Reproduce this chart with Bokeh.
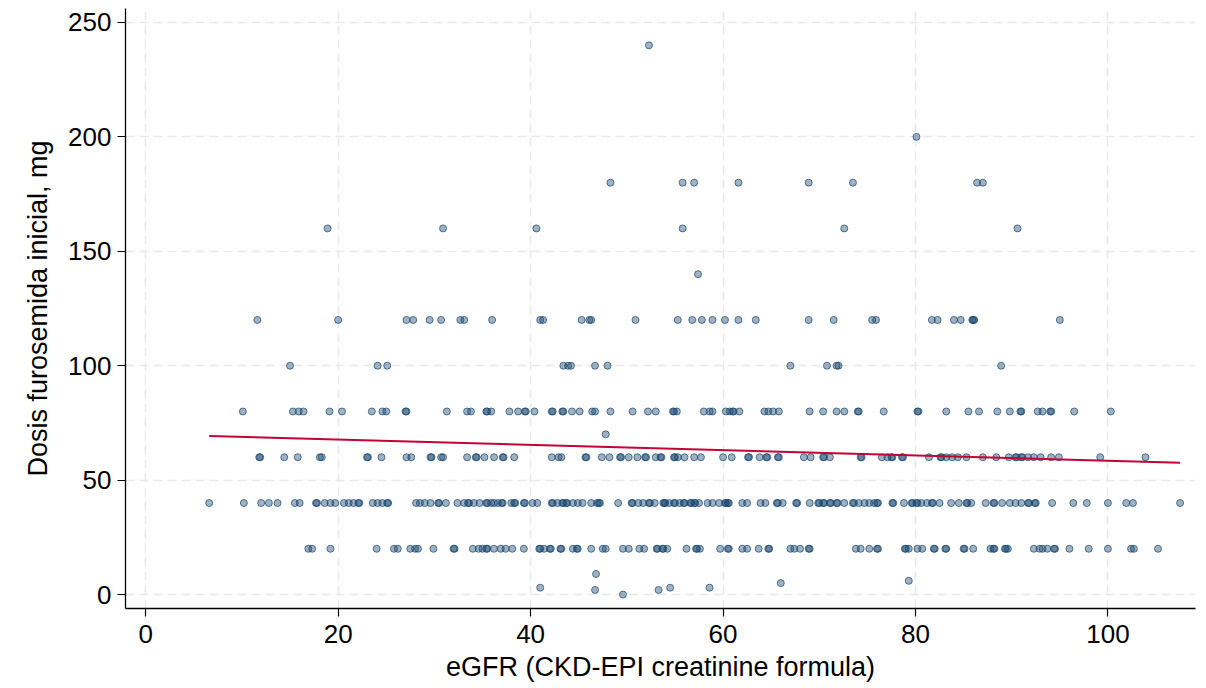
from bokeh.plotting import figure
from bokeh.models import FixedTicker, Range1d
from bokeh.embed import file_html
from bokeh.resources import INLINE

# eGFR values (mL/min/1.73m2) grouped by initial furosemide dose (mg)
egfr_240 = [52.3]
egfr_200 = [80.1]
egfr_180 = [48.3, 55.8, 57.0, 61.6, 68.9, 73.5, 86.4, 87.0]
egfr_160 = [18.9, 30.9, 40.6, 55.8, 72.6, 90.6]
egfr_140 = [57.4]
egfr_120 = [11.6, 20.0, 27.1, 27.8, 29.5, 30.7, 32.7, 33.1, 36.0, 41.0, 41.3, 45.3,
            46.1, 46.3, 50.9, 55.3, 56.8, 57.8, 58.9, 60.2, 61.6, 63.4, 68.9, 71.5,
            75.5, 75.9, 81.7, 82.3, 84.0, 84.7, 85.9, 86.0, 86.1, 95.0]
egfr_100 = [15.0, 24.1, 25.1, 43.4, 43.9, 44.2, 46.7, 48.0, 67.0, 70.8, 71.8, 72.0, 88.9]
egfr_80 = [10.1, 15.3, 15.9, 16.4, 19.1, 20.4, 23.5, 24.6, 25.0, 27.0, 27.1, 31.3,
           33.4, 33.8, 35.4, 35.5, 35.9, 37.8, 38.7, 39.4, 39.5, 40.4, 42.2, 42.3,
           43.3, 43.4, 44.3, 45.1, 46.4, 46.7, 48.3, 50.6, 52.2, 53.0, 54.8, 54.9,
           55.2, 58.0, 58.6, 58.9, 60.3, 60.7, 61.0, 61.1, 61.7, 64.3, 64.7, 65.2,
           65.8, 69.0, 70.4, 71.8, 72.6, 74.0, 74.1, 76.7, 80.2, 80.3, 83.2, 85.5,
           86.6, 88.5, 89.8, 90.9, 91.0, 92.7, 93.2, 94.0, 94.1, 96.5, 100.3]
egfr_70 = [47.8]
egfr_60 = [11.8, 11.9, 14.4, 15.8, 18.1, 18.3, 23.0, 23.1, 24.5, 27.1, 27.6, 29.6,
           29.7, 30.7, 30.9, 33.4, 34.3, 34.4, 35.2, 36.2, 37.1, 37.2, 38.3, 42.2,
           42.9, 43.2, 45.7, 45.8, 47.4, 48.2, 49.3, 49.4, 50.2, 51.1, 51.9, 52.0,
           53.0, 53.5, 53.6, 54.9, 55.0, 55.3, 56.0, 57.0, 57.7, 60.0, 60.9, 62.6,
           62.7, 63.8, 64.5, 64.6, 65.7, 65.8, 68.4, 69.1, 70.4, 70.5, 71.1, 74.3,
           74.4, 76.5, 77.1, 77.5, 77.6, 78.6, 78.7, 81.4, 82.6, 82.7, 83.2, 83.8,
           84.4, 85.3, 87.0, 88.4, 89.7, 90.4, 90.5, 91.0, 91.1, 91.7, 92.3, 93.0,
           94.1, 94.9, 99.2, 103.9]
egfr_40 = [6.6, 10.2, 12.0, 12.8, 13.7, 15.5, 16.0, 17.7, 17.8, 18.6, 19.2, 19.7,
           20.6, 21.1, 21.6, 22.1, 22.2, 23.6, 24.1, 24.6, 25.1, 25.2, 28.1, 28.5,
           29.0, 29.6, 30.4, 30.5, 31.2, 32.4, 33.1, 33.5, 33.6, 34.1, 34.7, 35.4,
           35.5, 35.9, 36.2, 36.6, 37.0, 37.1, 38.0, 38.3, 38.4, 39.3, 39.4, 40.2,
           40.7, 42.2, 42.3, 42.8, 43.3, 43.4, 43.7, 43.8, 44.4, 44.9, 45.4, 46.3,
           46.9, 47.1, 47.2, 49.1, 50.5, 50.6, 51.2, 51.7, 52.3, 52.4, 52.9, 53.8,
           53.9, 54.0, 54.4, 54.9, 55.0, 55.5, 55.9, 56.0, 56.6, 56.7, 57.0, 57.1,
           57.5, 58.4, 58.9, 59.6, 60.2, 60.3, 60.5, 60.6, 62.0, 62.5, 63.9, 64.4,
           65.6, 65.7, 66.2, 67.6, 67.7, 69.0, 69.9, 70.0, 70.4, 70.5, 71.1, 71.2,
           71.8, 71.9, 72.6, 73.5, 73.6, 74.1, 74.7, 75.2, 75.7, 76.0, 76.1, 77.6,
           77.7, 78.8, 79.6, 79.7, 80.1, 80.2, 80.6, 81.2, 81.7, 81.8, 82.5, 83.7,
           84.5, 85.3, 85.4, 85.8, 87.3, 88.1, 88.2, 89.0, 89.8, 90.4, 91.0, 91.7,
           91.8, 92.4, 92.5, 94.2, 96.4, 97.8, 100.0, 101.9, 102.6, 107.5]
egfr_20 = [16.9, 17.3, 19.2, 24.0, 25.8, 26.2, 27.5, 28.0, 28.3, 29.9, 32.0, 32.1,
           34.0, 34.6, 35.0, 35.4, 35.5, 36.2, 36.9, 37.4, 38.1, 39.3, 40.9, 41.0,
           41.4, 42.0, 42.1, 43.1, 43.2, 44.4, 44.8, 44.9, 46.3, 47.5, 47.8, 49.6,
           50.2, 51.3, 51.8, 53.1, 53.2, 53.7, 53.8, 54.2, 56.2, 57.2, 57.3, 57.6,
           59.7, 60.5, 60.6, 62.0, 62.5, 63.7, 64.7, 64.8, 67.0, 67.4, 68.0, 68.9,
           69.0, 73.8, 74.3, 75.2, 76.0, 76.1, 78.9, 79.0, 79.3, 80.2, 80.7, 81.9,
           82.0, 83.1, 83.2, 85.0, 85.1, 86.0, 87.8, 88.1, 88.2, 89.3, 89.4, 89.6,
           92.3, 92.9, 93.2, 93.7, 94.4, 94.5, 96.0, 98.0, 100.0, 102.4, 102.7, 105.2]

# Patients with small initial doses
egfr_low = [41.0, 46.8, 46.7, 49.6, 53.3, 54.5, 58.6, 66.0, 79.3]
dose_low = [3, 9, 2, 0, 2, 3, 3, 5, 6]

# Linear fit endpoints (eGFR, fitted dose)
fit_egfr = [6.6, 107.5]
fit_dose = [69.3, 57.6]

x_ticks = [0, 20, 40, 60, 80, 100]
y_ticks = [0, 50, 100, 150, 200, 250]
x_title = "eGFR (CKD-EPI creatinine formula)"
y_title = "Dosis furosemida inicial, mg"

groups = [(240, egfr_240), (200, egfr_200), (180, egfr_180), (160, egfr_160),
          (140, egfr_140), (120, egfr_120), (100, egfr_100), (80, egfr_80),
          (70, egfr_70), (60, egfr_60), (40, egfr_40), (20, egfr_20)]

xs, ys = [], []
for dose, vals in groups:
    xs.extend(vals)
    ys.extend([dose] * len(vals))
xs.extend(egfr_low)
ys.extend(dose_low)

FONT = "Liberation Sans"
NAVY = "#1a476f"

p = figure(width=1206, height=688, output_backend="svg", toolbar_location=None,
           x_range=Range1d(-2.1, 109.1), y_range=Range1d(-6.1, 256.1),
           min_border_left=125, min_border_right=11, min_border_top=8,
           min_border_bottom=80)
p.outline_line_color = None
p.background_fill_color = "white"
p.border_fill_color = "white"

for g in (p.xgrid[0], p.ygrid[0]):
    g.grid_line_color = "#e9e9e9"
    g.grid_line_width = 1.5
    g.grid_line_dash = "9 5"

p.scatter(xs, ys, size=7, marker="circle", fill_color=NAVY, fill_alpha=0.42,
          line_color=NAVY, line_alpha=0.7, line_width=1)
p.line(fit_egfr, fit_dose, line_color="#c10534", line_width=2)

for ax in (p.xaxis[0], p.yaxis[0]):
    ax.axis_line_color = "black"
    ax.axis_line_width = 1.3
    ax.major_tick_line_color = "black"
    ax.major_tick_line_width = 1.2
    ax.major_tick_out = 8
    ax.major_tick_in = 0
    ax.minor_tick_line_color = None
    ax.major_label_text_font = FONT
    ax.major_label_text_font_size = "26px"
    ax.major_label_text_color = "black"
    ax.axis_label_text_font = FONT
    ax.axis_label_text_font_size = "27px"
    ax.axis_label_text_font_style = "normal"
    ax.axis_label_text_color = "black"

p.xaxis[0].ticker = FixedTicker(ticks=x_ticks)
p.yaxis[0].ticker = FixedTicker(ticks=y_ticks)
p.xaxis[0].axis_label = x_title
p.yaxis[0].axis_label = y_title
p.xaxis[0].major_label_standoff = 8
p.yaxis[0].major_label_standoff = 6
p.yaxis[0].major_label_orientation = "horizontal"
p.xaxis[0].axis_label_standoff = 6
p.yaxis[0].axis_label_standoff = 12

open("out.html", "w").write(file_html(p, INLINE))
